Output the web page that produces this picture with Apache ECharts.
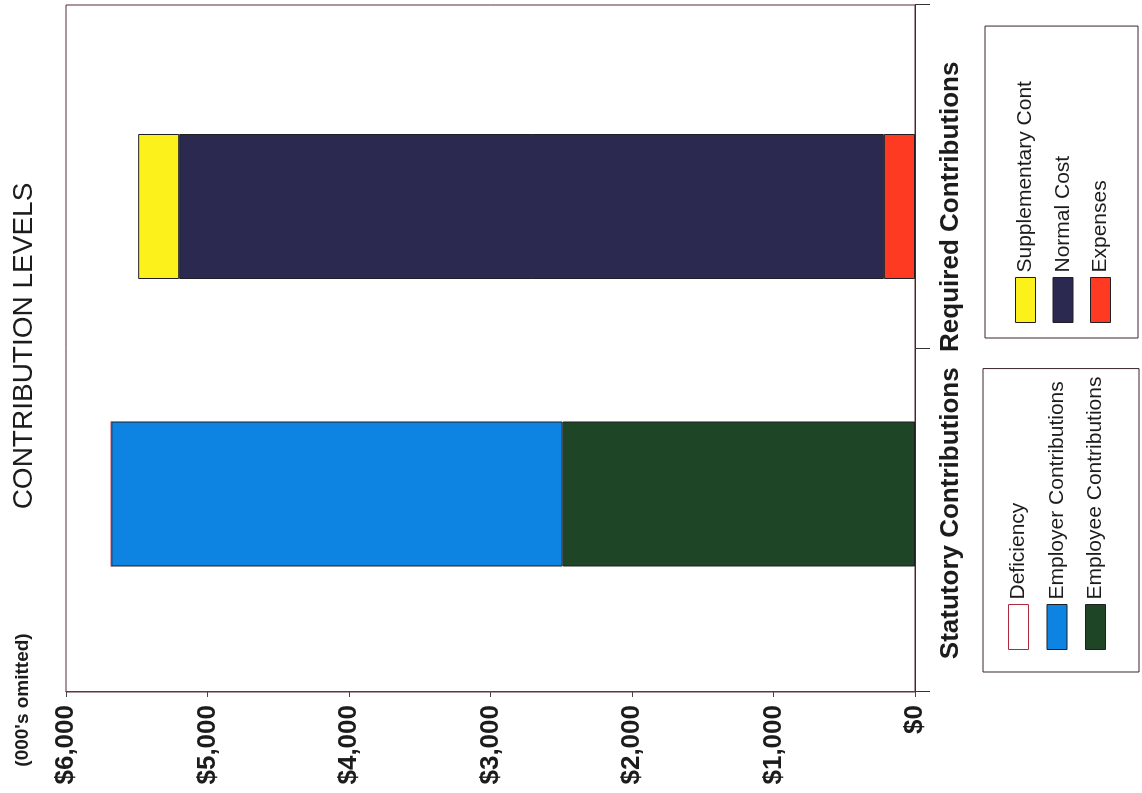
<!DOCTYPE html>
<html>
<head>
<meta charset="utf-8">
<script src="https://cdn.jsdelivr.net/npm/echarts@6/dist/echarts.min.js"></script>
<style>
html, body { margin: 0; padding: 0; width: 1142px; height: 793px; overflow: hidden; background: #ffffff; }
#chart { position: absolute; left: 0; top: 0; width: 793px; height: 1142px;
  transform-origin: 0 0; transform: translate(0, 793px) rotate(-90deg); }
</style>
</head>
<body>
<div id="chart"></div>
<script>
// ---- data ----
const categories = ['Statutory Contributions', 'Required Contributions'];
const employeeContributions = [2490, '-'];
const employerContributions = [3190, '-'];
const deficiency = [0, '-'];
const expenses = ['-', 220];
const normalCost = ['-', 4980];
const supplementaryCont = ['-', 290];
const valueTickLabels = ['$0', '$1,000', '$2,000', '$3,000', '$4,000', '$5,000', '$6,000'];
const legendStatutory = ['Deficiency', 'Employer Contributions', 'Employee Contributions'];
const legendRequired = ['Supplementary Cont', 'Normal Cost', 'Expenses'];
const titleText = 'CONTRIBUTION LEVELS';
const unitText = "(000's omitted)";

const FONT = '"Liberation Sans", Arial, Helvetica, sans-serif';
const TXT = '#1c1c1c';
const EDGE = '#1e1e24';

const chart = echarts.init(document.getElementById('chart'), null, { renderer: 'canvas' });

function barSeries(name, data, color, border) {
  return {
    name: name, type: 'bar', stack: 'total', data: data,
    xAxisIndex: 1, yAxisIndex: 1, barWidth: 145,
    itemStyle: { color: color, borderColor: border || EDGE, borderWidth: 1 },
    emphasis: { disabled: true }, silent: true
  };
}

const legendBase = {
  orient: 'vertical', icon: 'rect', itemWidth: 45, itemHeight: 20,
  borderColor: '#3a2430', borderWidth: 1, selectedMode: false,
  textStyle: { fontSize: 21, color: TXT, fontFamily: FONT, lineHeight: 20 },
  itemStyle: { borderWidth: 1 }
};

chart.setOption({
  animation: false,
  backgroundColor: '#ffffff',
  title: [
    { text: titleText, left: 447, top: 10, textAlign: 'center', padding: 0,
      textStyle: { fontSize: 28, fontWeight: 'normal', color: TXT, fontFamily: FONT } },
    { text: unitText, left: 93, top: 13, textAlign: 'center', padding: 0,
      textStyle: { fontSize: 19, fontWeight: 'bold', color: TXT, fontFamily: FONT } }
  ],
  grid: [
    { left: 101, right: 5, top: 66, bottom: 227, show: true, borderColor: '#5a2a3a', borderWidth: 1, backgroundColor: 'transparent' },
    { left: 155.25, right: 62.75, top: 66, bottom: 227 }
  ],
  xAxis: [
    { type: 'category', gridIndex: 0, data: categories, boundaryGap: true,
      axisLine: { show: true, lineStyle: { color: '#5e1830', width: 1 } },
      axisTick: { show: true, length: 15, lineStyle: { color: '#333', width: 1 } },
      axisLabel: {
        margin: 23, interval: 0, color: TXT, fontFamily: FONT, fontSize: 26, fontWeight: 'bold',
        formatter: function (v, i) { return (i === 0 ? '{a|' : '{b|') + v + '}'; },
        rich: {
          a: { fontSize: 26, fontWeight: 'bold', fontFamily: FONT, color: TXT, padding: [0, 0, 0, 14] },
          b: { fontSize: 26, fontWeight: 'bold', fontFamily: FONT, color: TXT, padding: [0, 60, 0, 0] }
        }
      },
      splitLine: { show: false } },
    { type: 'category', gridIndex: 1, data: categories, boundaryGap: true, show: false }
  ],
  yAxis: [
    { type: 'value', gridIndex: 0, min: 0, max: 6000, interval: 1000,
      axisLine: { show: true, lineStyle: { color: '#444450', width: 1 } },
      axisTick: { show: true, length: 5, lineStyle: { color: '#444450' } },
      splitLine: { show: false },
      axisLabel: { margin: 13, color: TXT, fontFamily: FONT, fontSize: 26, fontWeight: 'bold',
        formatter: function (v) { return valueTickLabels[Math.round(v / 1000)]; } } },
    { type: 'value', gridIndex: 1, min: 0, max: 6000, interval: 1000, show: false }
  ],
  legend: [
    Object.assign({}, legendBase, { data: legendStatutory, left: 121, top: 983, padding: [25, 8, 33, 22], itemGap: 17.5 }),
    Object.assign({}, legendBase, { data: legendRequired, left: 455, top: 985, padding: [30, 55, 27, 15], itemGap: 16.5 })
  ],
  series: [
    barSeries('Employee Contributions', employeeContributions, '#1f4527'),
    barSeries('Employer Contributions', employerContributions, '#0d84e2'),
    barSeries('Deficiency', deficiency, '#ffffff', '#b02a3c'),
    barSeries('Expenses', expenses, '#ff3a22'),
    barSeries('Normal Cost', normalCost, '#2b2950'),
    barSeries('Supplementary Cont', supplementaryCont, '#fdf11c')
  ]
});
</script>
</body>
</html>
